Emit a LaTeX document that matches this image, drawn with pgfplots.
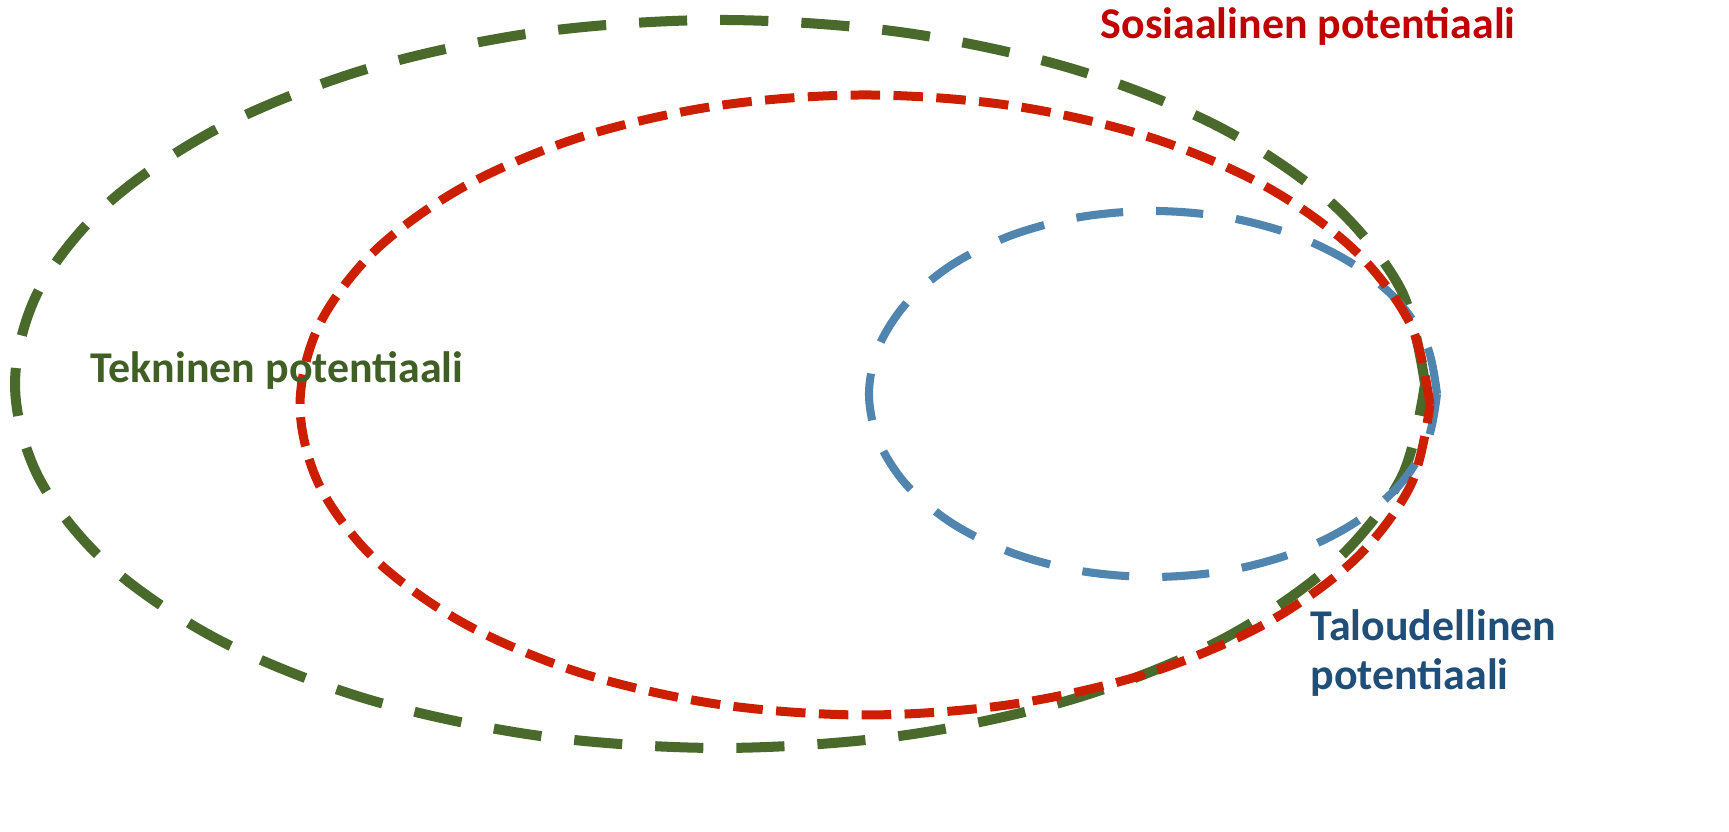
\documentclass[border=0pt]{standalone}
\usepackage{fontspec}
\setmainfont{Carlito}
\usepackage{pgfplots}
\pgfplotsset{compat=1.18}

\definecolor{tekgreen}{HTML}{4A6A2C}
\definecolor{tektext}{HTML}{3F5F24}
\definecolor{sosred}{HTML}{CC1F00}
\definecolor{sostext}{HTML}{C00000}
\definecolor{talblue}{HTML}{5085B0}
\definecolor{taltext}{HTML}{1F4E79}

\begin{document}
\begin{tikzpicture}
	\path[use as bounding box] (0,0) rectangle (17.29cm,8.32cm);
	\begin{axis}[
			at={(0,0)}, anchor=origin,
			width=17.29cm, height=8.32cm,
			scale only axis,
			xmin=0, xmax=1729,
			ymin=0, ymax=832,
			hide axis,
			clip=false
		]
		% Tekninen potentiaali
		\addplot[tekgreen, line width=2.85pt, dash pattern=on 13.7pt off 9.4pt, smooth, tension=0.55] coordinates {
				(1425,448)(1401.0,542.2)(1330.5,630)(1218.5,705.4)(1072.5,763.2)(902.5,799.6)
				(720,812)(537.5,799.6)(367.5,763.2)(221.5,705.4)(109.5,630)(39.0,542.2)
				(15,448)(39.0,353.8)(109.5,266)(221.5,190.6)(367.5,132.8)(537.5,96.4)
				(720,84)(902.5,96.4)(1072.5,132.8)(1218.5,190.6)(1330.5,266)(1401.0,353.8)
				(1425,448)
			};
		% Taloudellinen potentiaali
		\addplot[talblue, line width=2.3pt, dash pattern=on 13.4pt off 9.4pt, smooth, tension=0.55] coordinates {
				(1437,438)(1427.3,485.4)(1399,529.5)(1353.8,567.4)(1295,596.5)(1226.5,614.8)
				(1153,621)(1079.5,614.8)(1011,596.5)(952.2,567.4)(907,529.5)(878.7,485.4)
				(869,438)(878.7,390.6)(907,346.5)(952.2,308.6)(1011,279.5)(1079.5,261.2)
				(1153,255)(1226.5,261.2)(1295,279.5)(1353.8,308.6)(1399,346.5)(1427.3,390.6)
				(1437,438)
			};
		% Sosiaalinen potentiaali
		\addplot[sosred, line width=2.56pt, dash pattern=on 8.4pt off 3.8pt, smooth, tension=0.55] coordinates {
				(1430,427)(1410.7,507.2)(1354.3,582)(1264.5,646.2)(1147.5,695.5)(1011.2,726.4)
				(865,737)(718.8,726.4)(582.5,695.5)(465.5,646.2)(375.7,582)(319.3,507.2)
				(300,427)(319.3,346.8)(375.7,272)(465.5,207.8)(582.5,158.5)(718.8,127.6)
				(865,117)(1011.2,127.6)(1147.5,158.5)(1264.5,207.8)(1354.3,272)(1410.7,346.8)
				(1430,427)
			};
		\node[anchor=west, text=sostext, font=\fontsize{12.5}{15}\selectfont\bfseries, inner sep=0pt] at (axis cs:1100,805) {Sosiaalinen potentiaali};
		\node[anchor=west, text=tektext, font=\fontsize{12.5}{15}\selectfont\bfseries, inner sep=0pt] at (axis cs:90,461) {Tekninen potentiaali};
		\node[anchor=west, text=taltext, font=\fontsize{12.5}{13.7}\selectfont\bfseries, inner sep=0pt, align=left] at (axis cs:1310,179) {Taloudellinen\\potentiaali};
	\end{axis}
\end{tikzpicture}
\end{document}
